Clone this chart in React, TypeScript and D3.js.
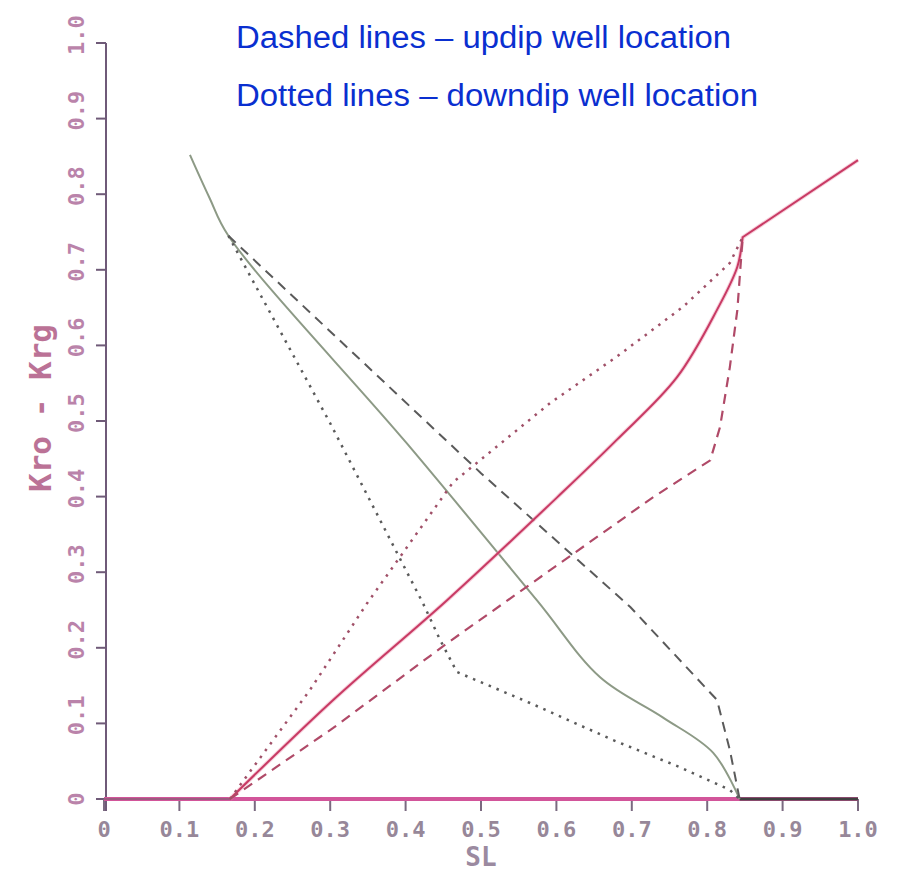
import React from "react";
import * as d3 from "d3";

const W = 899;
const H = 887;

const xTicks = [0, 0.1, 0.2, 0.3, 0.4, 0.5, 0.6, 0.7, 0.8, 0.9, 1.0];
const xTickLabels = ["0", "0.1", "0.2", "0.3", "0.4", "0.5", "0.6", "0.7", "0.8", "0.9", "1.0"];
const yTicks = [0, 0.1, 0.2, 0.3, 0.4, 0.5, 0.6, 0.7, 0.8, 0.9, 1.0];
const yTickLabels = ["0", "0.1", "0.2", "0.3", "0.4", "0.5", "0.6", "0.7", "0.8", "0.9", "1.0"];

type P = [number, number];

// Krg curves (gray)
const krgSolid: P[] = [
  [0.114, 0.852], [0.14, 0.795], [0.165, 0.745], [0.402, 0.47], [0.574, 0.263], [0.658, 0.161],
  [0.741, 0.108], [0.808, 0.061], [0.843, 0.0],
];
const krgDashed: P[] = [
  [0.165, 0.745], [0.5, 0.431], [0.698, 0.254], [0.813, 0.131], [0.83, 0.065], [0.843, 0.0],
];
const krgDotted: P[] = [
  [0.165, 0.745], [0.3, 0.497], [0.423, 0.259], [0.446, 0.21], [0.468, 0.168],
  [0.565, 0.127], [0.675, 0.078], [0.764, 0.042], [0.83, 0.012], [0.843, 0.0],
];

// Kro curves (red)
const kroSolid: P[] = [
  [0.167, 0.0], [0.304, 0.131], [0.455, 0.263], [0.601, 0.399], [0.68, 0.475],
  [0.76, 0.558], [0.813, 0.647], [0.84, 0.704], [0.847, 0.743],
];
const kroSolidTail: P[] = [[0.847, 0.743], [1.0, 0.845]];
const kroDashed: P[] = [
  [0.167, 0.0], [0.304, 0.094], [0.455, 0.206], [0.728, 0.399], [0.804, 0.448],
  [0.817, 0.492], [0.83, 0.571], [0.84, 0.647], [0.847, 0.743],
];
const kroDotted: P[] = [
  [0.167, 0.0], [0.273, 0.144], [0.349, 0.259], [0.463, 0.419], [0.592, 0.524],
  [0.68, 0.585], [0.768, 0.651], [0.83, 0.709], [0.847, 0.743],
];

const titleLines = ["Dashed lines \u2013 updip well location", "Dotted lines \u2013 downdip well location"];

export default function App() {
  const x = d3.scaleLinear().domain([0, 1]).range([104, 858]);
  const y = d3.scaleLinear().domain([0, 1]).range([799, 43]);
  const line = d3
    .line<P>()
    .x((d) => x(d[0]))
    .y((d) => y(d[1]))
    .curve(d3.curveLinear);
  const smooth = d3
    .line<P>()
    .x((d) => x(d[0]))
    .y((d) => y(d[1]))
    .curve(d3.curveCatmullRom.alpha(0.5));

  const plotFont = "'DejaVu Sans Mono', monospace";
  const redSolid = (smooth(kroSolid) || "") + (line(kroSolidTail) || "").replace(/^M/, "L");

  return (
    <svg
      width={W}
      height={H}
      style={{ position: "absolute", left: 0, top: 0, background: "#fff" }}
    >
      {/* title */}
      <g fontFamily="'Liberation Sans', Arial, sans-serif" fontSize={31} fill="#0a2fd0">
        <text x={236} y={48} textLength={495} lengthAdjust="spacingAndGlyphs">{titleLines[0]}</text>
        <text x={236} y={106} textLength={522} lengthAdjust="spacingAndGlyphs">{titleLines[1]}</text>
      </g>

      {/* y axis */}
      <line x1={x(0) + 2} x2={x(0) + 2} y1={y(1)} y2={y(0) + 12} stroke="#6f5a78" strokeWidth={2} />
      {yTicks.map((t) => (
        <line key={"yt" + t} x1={x(0) - 8} x2={x(0) + 2} y1={y(t)} y2={y(t)} stroke="#6f5a78" strokeWidth={2} />
      ))}
      {yTicks.map((t, i) => (
        <text
          key={"yl" + t}
          transform={`translate(${84},${y(t) - (i === 0 ? 0 : 8)}) rotate(-90)`}
          textAnchor="middle"
          fontFamily={plotFont}
          fontSize={22}
          fontWeight="bold"
          fill="#a45a8e"
          opacity={0.75}
        >
          {yTickLabels[i]}
        </text>
      ))}
      <text
        transform={`translate(${51},${408}) rotate(-90)`}
        textAnchor="middle"
        fontFamily={plotFont}
        fontSize={31}
        fontWeight="bold"
        fill="#b05a84"
        opacity={0.85}
      >
        Kro - Krg
      </text>

      {/* x axis */}
      {xTicks.map((t) => (
        <line key={"xt" + t} x1={x(t)} x2={x(t)} y1={y(0)} y2={y(0) + 12} stroke="#7a6a80" strokeWidth={2} />
      ))}
      <line x1={x(0)} x2={x(1)} y1={y(0)} y2={y(0)} stroke="#d2559a" strokeWidth={4} />
      <line x1={x(0)} x2={x(0.167)} y1={y(0)} y2={y(0)} stroke="#7a6070" strokeWidth={2} opacity={0.6} />
      <line x1={x(0.843)} x2={x(1)} y1={y(0)} y2={y(0)} stroke="#404040" strokeWidth={3} />
      {xTicks.map((t, i) => (
        <text
          key={"xl" + t}
          x={x(t)}
          y={837}
          textAnchor="middle"
          fontFamily={plotFont}
          fontSize={22}
          fontWeight="bold"
          fill="#857388"
          opacity={0.85}
        >
          {xTickLabels[i]}
        </text>
      ))}
      <text x={x(0.5)} y={866} textAnchor="middle" fontFamily={plotFont} fontSize={26} fontWeight="bold" fill="#8a7690" opacity={0.85}>
        SL
      </text>

      {/* Krg gray curves */}
      <path d={smooth(krgSolid) || ""} fill="none" stroke="#8d9a86" strokeWidth={2} />
      <path d={line(krgDashed) || ""} fill="none" stroke="#5a5a5a" strokeWidth={2} strokeDasharray="10 7" />
      <path d={line(krgDotted) || ""} fill="none" stroke="#5a5a5a" strokeWidth={2.5} strokeDasharray="2.5 6" />

      {/* Kro red curves */}
      <path d={redSolid} fill="none" stroke="#f0a0b8" strokeWidth={4} opacity={0.5} />
      <path d={redSolid} fill="none" stroke="#c83a64" strokeWidth={2} />
      <path d={line(kroDashed) || ""} fill="none" stroke="#b04a68" strokeWidth={2.2} strokeDasharray="10 7" />
      <path d={line(kroDotted) || ""} fill="none" stroke="#a05068" strokeWidth={2.5} strokeDasharray="2.5 6" />
    </svg>
  );
}
